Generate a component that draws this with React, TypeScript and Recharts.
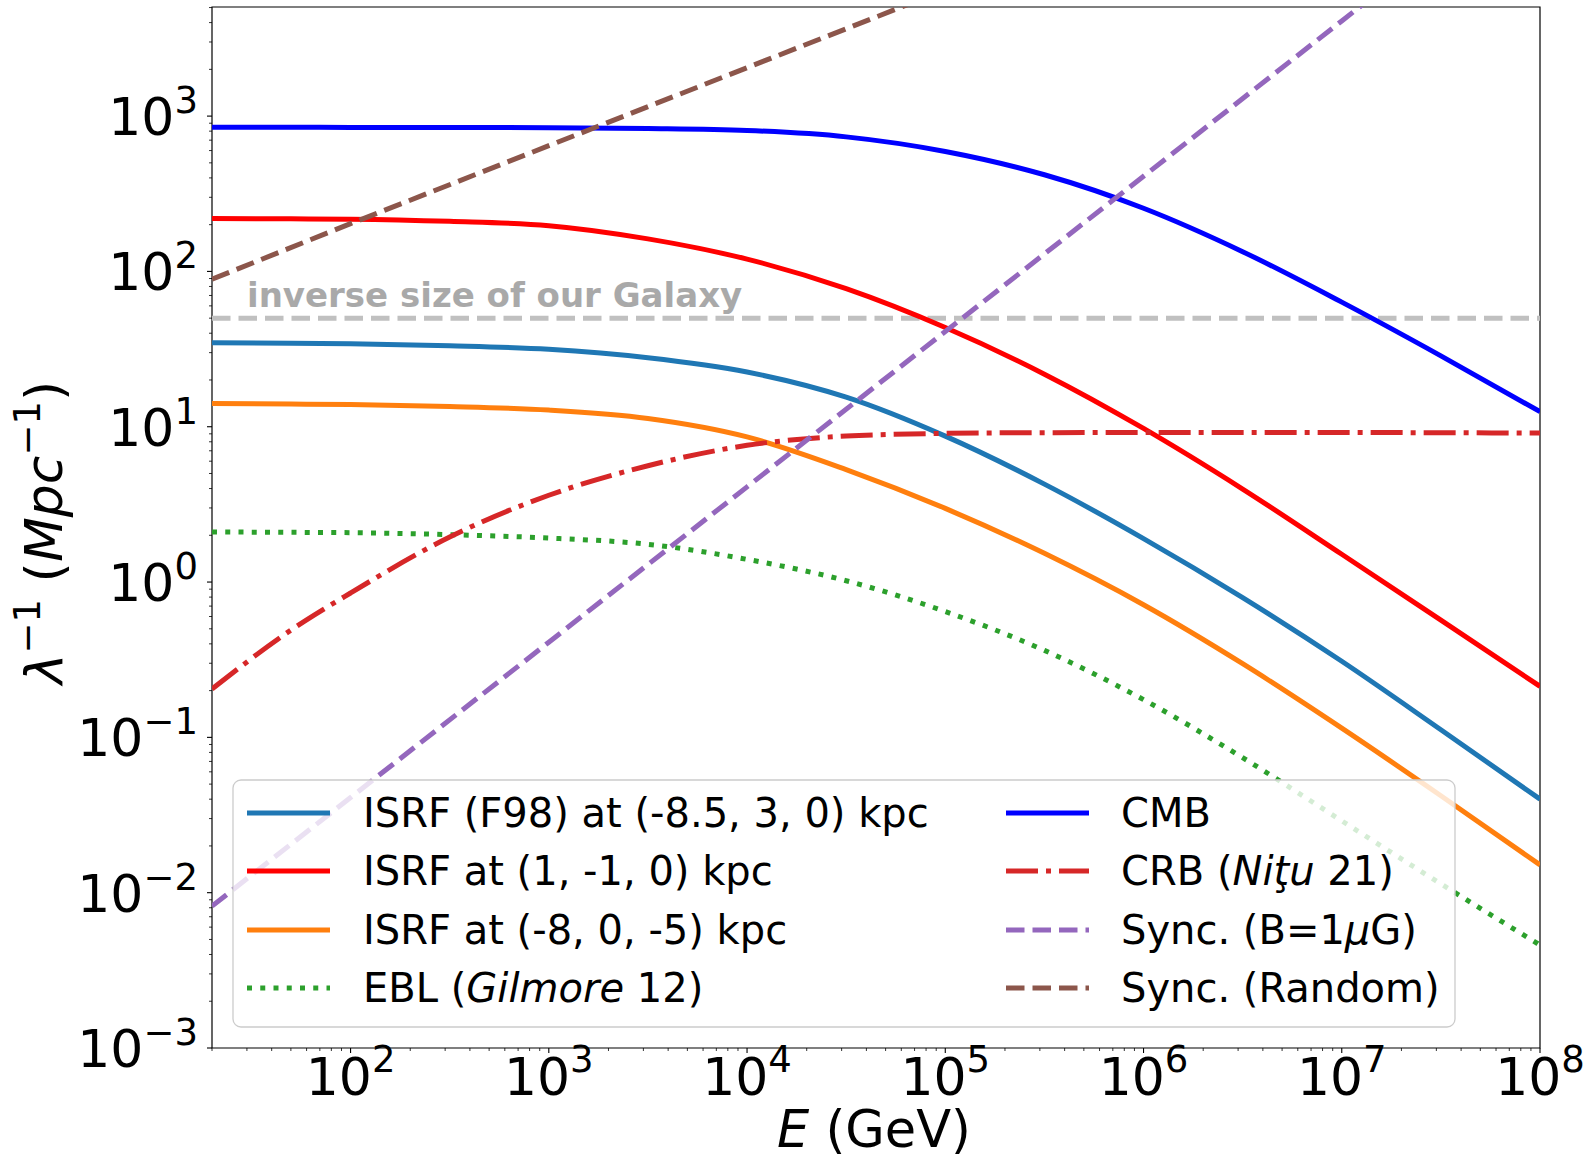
import React from 'react';
import { LineChart, Line, XAxis, YAxis, ReferenceLine, ReferenceArea } from 'recharts';

const FONT = '"DejaVu Sans", sans-serif';

// ---------- data ----------
const energies = [20, 50, 100, 316.2, 1000, 3162, 1e4, 31623, 1e5, 316228, 1e6, 3162278, 1e7, 31622777, 1e8];
const isrfF98 = [34.7, 34.5, 34.2, 33.2, 31.5, 27.8, 22.5, 15.5, 8.7, 4.27, 1.905, 0.794, 0.309, 0.112, 0.04];
const isrf1m10 = [219, 218, 217, 210, 197, 162, 120, 77.4, 43.5, 21.8, 9.75, 3.97, 1.51, 0.568, 0.213];
const isrfm80m5 = [14.1, 14.0, 13.9, 13.5, 12.8, 11.3, 8.6, 5.3, 2.98, 1.53, 0.714, 0.298, 0.1146, 0.0421, 0.0151];
const eblGilmore = [2.1, 2.09, 2.08, 2.02, 1.92, 1.75, 1.4, 1.02, 0.646, 0.363, 0.175, 0.074, 0.029, 0.0114, 0.0046];
const cmb = [848, 847, 846, 845, 842, 832, 808, 735, 592, 419, 255, 134, 63.4, 28.6, 12.5];
const crbNitu = [0.205, 0.49, 0.85, 1.95, 3.62, 5.61, 7.59, 8.71, 9.06, 9.16, 9.18, 9.18, 9.18, 9.15, 9.1];

const syncBEnergies = [20, 100, 1e3, 1e4, 1e5, 1e6, 1e7, 2e7];
const syncBValues = [0.0082, 0.041, 0.41, 4.1, 41, 410, 4100, 8200];
const syncRandomEnergies = [20, 100, 1e3, 1e4, 1e5];
const syncRandomValues = [89, 203, 645, 2050, 6500];

const galaxyInverseSize = 50;
const galaxyText = 'inverse size of our Galaxy';

const xDomain = [20, 1e8];
const yDomain = [1e-3, 5040];
const xMajorTicks = [1e2, 1e3, 1e4, 1e5, 1e6, 1e7, 1e8];
const yMajorTicks = [1e-3, 1e-2, 1e-1, 1e0, 1e1, 1e2, 1e3];
const minorMultipliers = [2, 3, 4, 5, 6, 7, 8, 9];

// ---------- helpers ----------
const zip = (xs: number[], ys: number[]) => xs.map((x, i) => ({ x, y: ys[i] }));

const withMinor = (decades: number[], lo: number, hi: number) => {
  const out: number[] = [];
  decades.forEach((d) => {
    out.push(d);
    minorMultipliers.forEach((m) => out.push(d * m));
  });
  return out.filter((v) => v >= lo * 0.999 && v <= hi * 1.001).sort((a, b) => a - b);
};

const xTicks = withMinor([10, ...xMajorTicks], xDomain[0], xDomain[1]);
const yTicks = withMinor(yMajorTicks, yDomain[0], yDomain[1]);

const isMajor = (v: number) => Math.abs(Math.log10(v) - Math.round(Math.log10(v))) < 1e-6;
const expLabel = (v: number) => {
  const e = Math.round(Math.log10(v));
  return e < 0 ? '\u2212' + Math.abs(e) : String(e);
};

const XTick = (props: any) => {
  const { x, y, payload } = props;
  const v = payload.value;
  const major = isMajor(v);
  return (
    <g>
      <line x1={x} x2={x} y1={y} y2={y + (major ? 5 : 3)} stroke="#000" strokeWidth={major ? 1.1 : 0.8} />
      {major && (
        <text x={x} y={y + 47} textAnchor="middle" fontFamily={FONT} fontSize={52} fill="#000">
          10<tspan dy={-23} fontSize={37}>{expLabel(v)}</tspan>
        </text>
      )}
    </g>
  );
};

const YTick = (props: any) => {
  const { x, y, payload } = props;
  const v = payload.value;
  const major = isMajor(v);
  return (
    <g>
      <line x1={x - (major ? 5 : 3)} x2={x} y1={y} y2={y} stroke="#000" strokeWidth={major ? 1.1 : 0.8} />
      {major && (
        <text x={x - 14} y={y + 19} textAnchor="end" fontFamily={FONT} fontSize={52} fill="#000">
          10<tspan dy={-22} fontSize={37}>{expLabel(v)}</tspan>
        </text>
      )}
    </g>
  );
};

const LW = 5;
const DASHED = `${3.7 * LW} ${1.6 * LW}`;
const DOTTED = `${1 * LW} ${1.65 * LW}`;
const DASHDOT = `${6.4 * LW} ${1.6 * LW} ${1 * LW} ${1.6 * LW}`;

type Entry = { label: React.ReactNode; color: string; dash?: string };
const legendLeft: Entry[] = [
  { label: 'ISRF (F98) at (-8.5, 3, 0) kpc', color: '#1f77b4' },
  { label: 'ISRF at (1, -1, 0) kpc', color: '#ff0000' },
  { label: 'ISRF at (-8, 0, -5) kpc', color: '#ff7f0e' },
  {
    label: (
      <>
        EBL (<tspan fontStyle="italic">Gilmore</tspan> 12)
      </>
    ),
    color: '#2ca02c',
    dash: DOTTED,
  },
];
const legendRight: Entry[] = [
  { label: 'CMB', color: '#0000ff' },
  {
    label: (
      <>
        CRB (<tspan fontStyle="italic">Niţu</tspan> 21)
      </>
    ),
    color: '#d62728',
    dash: DASHDOT,
  },
  {
    label: (
      <>
        Sync. (B=1<tspan fontStyle="italic">μ</tspan>G)
      </>
    ),
    color: '#9467bd',
    dash: DASHED,
  },
  { label: 'Sync. (Random)', color: '#8c564b', dash: DASHED },
];
const legendRows = [813, 871, 930, 988];

const LegendBox = () => (
  <svg
    width={1593}
    height={1160}
    style={{ position: 'absolute', left: 0, top: 0, pointerEvents: 'none' }}
  >
    <rect x={233} y={780} width={1222} height={247} rx={8} ry={8} fill="#ffffff" fillOpacity={0.8} stroke="#cccccc" strokeWidth={1.3} />
    {legendLeft.map((e, i) => (
      <g key={'l' + i}>
        <line x1={247} x2={330} y1={legendRows[i]} y2={legendRows[i]} stroke={e.color} strokeWidth={LW} strokeDasharray={e.dash} />
        <text x={363} y={legendRows[i] + 14} fontFamily={FONT} fontSize={40} fill="#000">
          {e.label}
        </text>
      </g>
    ))}
    {legendRight.map((e, i) => (
      <g key={'r' + i}>
        <line x1={1006} x2={1089} y1={legendRows[i]} y2={legendRows[i]} stroke={e.color} strokeWidth={LW} strokeDasharray={e.dash} />
        <text x={1121} y={legendRows[i] + 14} fontFamily={FONT} fontSize={40} fill="#000">
          {e.label}
        </text>
      </g>
    ))}
  </svg>
);

const XLabel = (props: any) => {
  const vb = props.viewBox || { x: 212, y: 1048, width: 1328 };
  return (
    <text x={vb.x + vb.width / 2 - 2} y={vb.y + 99} textAnchor="middle" fontFamily={FONT} fontSize={51} fill="#000">
      <tspan fontStyle="italic">E</tspan> (GeV)
    </text>
  );
};

const YLabel = (props: any) => {
  const vb = props.viewBox || { x: 0, y: 7, width: 212, height: 1041 };
  const cx = 62;
  const cy = vb.y + vb.height / 2 + 5;
  return (
    <text
      x={cx}
      y={cy}
      transform={`rotate(-90, ${cx}, ${cy})`}
      textAnchor="middle"
      fontFamily={FONT}
      fontSize={52}
      fill="#000"
    >
      <tspan fontStyle="italic">λ</tspan>
      <tspan dy={-22} fontSize={37}>{'\u22121'}</tspan>
      <tspan dy={22}> (</tspan>
      <tspan fontStyle="italic">Mpc</tspan>
      <tspan dy={-22} fontSize={37}>{'\u22121'}</tspan>
      <tspan dy={22}>)</tspan>
    </text>
  );
};

const GalaxyLabel = (props: any) => {
  const vb = props.viewBox || { x: 212, y: 318 };
  return (
    <text x={vb.x + 35} y={vb.y - 11} fontFamily={FONT} fontSize={34} fontWeight="bold" fill="#a9a9a9">
      {galaxyText}
    </text>
  );
};

export default function App() {
  return (
    <div style={{ position: 'absolute', left: 0, top: 0, width: 1593, height: 1160, background: '#ffffff' }}>
      <LineChart width={1593} height={1160} margin={{ top: 7, right: 53, bottom: 0, left: 0 }}>
        <XAxis
          dataKey="x"
          type="number"
          scale="log"
          domain={xDomain}
          allowDataOverflow
          ticks={xTicks}
          interval={0}
          tick={(p: any) => <XTick {...p} />}
          tickLine={false}
          axisLine={false}
          tickSize={0}
          tickMargin={0}
          height={112}
          label={{ content: (p: any) => <XLabel {...p} /> }}
        />
        <YAxis
          dataKey="y"
          type="number"
          scale="log"
          domain={yDomain}
          allowDataOverflow
          ticks={yTicks}
          interval={0}
          tick={(p: any) => <YTick {...p} />}
          tickLine={false}
          axisLine={false}
          tickSize={0}
          tickMargin={0}
          width={212}
          label={{ content: (p: any) => <YLabel {...p} /> }}
        />
        <ReferenceLine
          y={galaxyInverseSize}
          stroke="#c0c0c0"
          strokeWidth={LW}
          strokeDasharray={DASHED}
          label={{ content: (p: any) => <GalaxyLabel {...p} /> }}
        />
        <Line data={zip(energies, isrfF98)} dataKey="y" type="monotone" stroke="#1f77b4" strokeWidth={LW} dot={false} isAnimationActive={false} />
        <Line data={zip(energies, isrf1m10)} dataKey="y" type="monotone" stroke="#ff0000" strokeWidth={LW} dot={false} isAnimationActive={false} />
        <Line data={zip(energies, isrfm80m5)} dataKey="y" type="monotone" stroke="#ff7f0e" strokeWidth={LW} dot={false} isAnimationActive={false} />
        <Line data={zip(energies, eblGilmore)} dataKey="y" type="monotone" stroke="#2ca02c" strokeWidth={LW} strokeDasharray={DOTTED} dot={false} isAnimationActive={false} />
        <Line data={zip(energies, cmb)} dataKey="y" type="monotone" stroke="#0000ff" strokeWidth={LW} dot={false} isAnimationActive={false} />
        <Line data={zip(energies, crbNitu)} dataKey="y" type="monotone" stroke="#d62728" strokeWidth={LW} strokeDasharray={DASHDOT} dot={false} isAnimationActive={false} />
        <Line data={zip(syncBEnergies, syncBValues)} dataKey="y" type="linear" stroke="#9467bd" strokeWidth={LW} strokeDasharray={DASHED} dot={false} isAnimationActive={false} />
        <Line data={zip(syncRandomEnergies, syncRandomValues)} dataKey="y" type="linear" stroke="#8c564b" strokeWidth={LW} strokeDasharray={DASHED} dot={false} isAnimationActive={false} />
        <ReferenceArea x1={xDomain[0]} x2={xDomain[1]} y1={yDomain[0]} y2={yDomain[1]} fill="none" fillOpacity={0} stroke="#000000" strokeWidth={1.2} />
      </LineChart>
      <LegendBox />
    </div>
  );
}
